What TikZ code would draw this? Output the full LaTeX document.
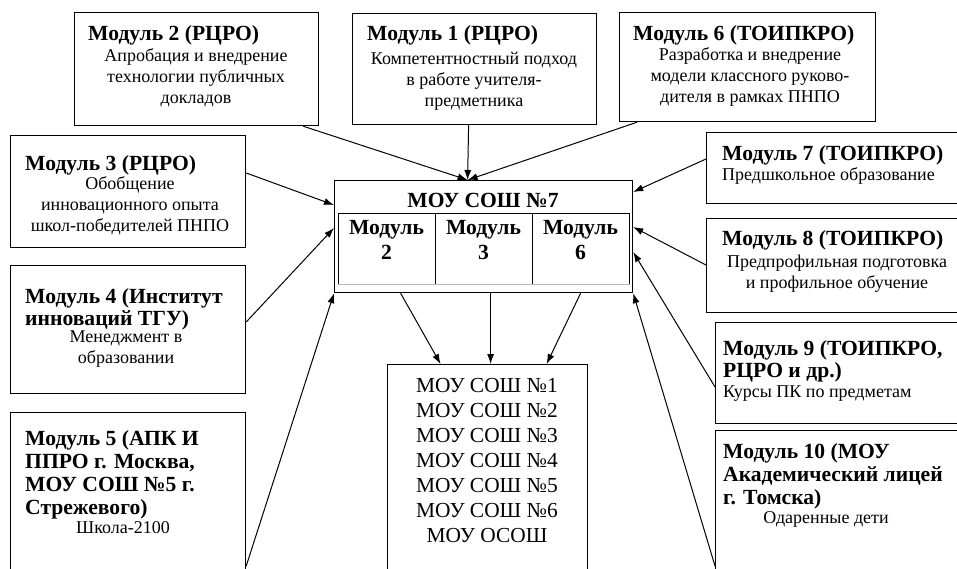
\documentclass[tikz,border=0pt]{standalone}
\usepackage{fontspec}
\setmainfont{Liberation Serif}
\usetikzlibrary{arrows.meta,calc}
\newcommand\bstrut{\rule{0pt}{12.5pt}}
\tikzset{
  box/.style={draw, line width=1.2pt, inner sep=0pt, anchor=north west},
  cell/.style={draw, line width=0.9pt, inner sep=0pt, anchor=north west, minimum width=97pt, minimum height=71pt},
  ttl/.style={font=\fontsize{21.6}{23}\selectfont\bfseries, inner sep=0pt, align=left, anchor=north west},
  bod/.style={font=\fontsize{18}{21}\selectfont, inner sep=0pt, align=center, anchor=north},
  bodl/.style={font=\fontsize{18}{21}\selectfont, inner sep=0pt, align=left, anchor=north west},
  celltxt/.style={font=\fontsize{21.6}{25}\selectfont\bfseries, inner sep=0pt, align=center, anchor=north},
  arr/.style={line width=1pt, -{Latex[length=10pt,width=7pt]}},
}
\begin{document}
\begin{tikzpicture}[x=1pt,y=-1pt]
\useasboundingbox (0,0) rectangle (957,568);
\clip (0,0) rectangle (957,568);

% boxes
\node[box, minimum width=244pt, minimum height=113pt] (m2) at (74,12) {};
\node[box, minimum width=244pt, minimum height=111pt] (m1) at (352,13) {};
\node[box, minimum width=256pt, minimum height=109pt] (m6) at (619,12) {};
\node[box, minimum width=235pt, minimum height=112pt] (m3) at (10,135) {};
\node[box, minimum width=235pt, minimum height=128pt] (m4) at (10,265) {};
\node[box, minimum width=235pt, minimum height=160pt] (m5) at (10,412) {};
\node[box, minimum width=260pt, minimum height=71pt] (m7) at (706,132) {};
\node[box, minimum width=260pt, minimum height=94pt] (m8) at (706,218) {};
\node[box, minimum width=250pt, minimum height=101pt] (m9) at (715,322) {};
\node[box, minimum width=250pt, minimum height=140pt] (m10) at (715,430) {};
\node[box, minimum width=298pt, minimum height=112pt] (c7) at (334,180) {};
\node[box, minimum width=200pt, minimum height=210pt] (b) at (387,364) {};

% inner cells
\node[cell] (k2) at (338,213) {};
\node[cell] (k3) at (435,213) {};
\node[cell] (k6) at (532,213) {};
\draw[gray!55, line width=1.1pt] (k2.south west) -- (k6.south east);

% texts
\node[ttl] (t2) at (88,23.9) {\strut Модуль 2 (РЦРО)};
\node[bod] (d2) at (196,48.5) {\bstrut Апробация и внедрение\\технологии публичных\\докладов};

\node[ttl] (t1) at (367,23.9) {\strut Модуль 1 (РЦРО)};
\node[bod] (d1) at (474,51.5) {\bstrut Компетентностный подход\\в работе учителя-\\предметника};

\node[ttl] (t6) at (633,23.9) {\strut Модуль 6 (ТОИПКРО)};
\node[bod] (d6) at (750,47.5) {\bstrut Разработка и внедрение\\модели классного руково-\\дителя в рамках ПНПО};

\node[ttl] (t3) at (25,153.9) {\strut Модуль 3 (РЦРО)};
\node[bod] (d3) at (130,176) {\bstrut Обобщение\\инновационного опыта\\школ-победителей ПНПО};

\node[ttl, font=\fontsize{21.6}{22}\selectfont\bfseries] (t4) at (25,287.6) {\strut Модуль 4 (Институт\\инноваций ТГУ)};
\node[bod] (d4) at (126,330) {\bstrut Менеджмент в\\образовании};

\node[ttl] (t5) at (25,428.9) {\strut Модуль 5 (АПК И\\ППРО г. Москва,\\МОУ СОШ №5 г.\\Стрежевого)};
\node[bod] (d5) at (123,520.5) {\bstrut Школа-2100};

\node[ttl] (t7) at (722,143.9) {\strut Модуль 7 (ТОИПКРО)};
\node[bodl] (d7) at (722,167.5) {\bstrut Предшкольное образование};

\node[ttl] (t8) at (722,228.9) {\strut Модуль 8 (ТОИПКРО)};
\node[bod] (d8) at (837,254.5) {\bstrut Предпрофильная подготовка\\и профильное обучение};

\node[ttl, font=\fontsize{21.6}{22}\selectfont\bfseries] (t9) at (723,339.6) {\strut Модуль 9 (ТОИПКРО,\\РЦРО и др.)};
\node[bodl] (d9) at (723,384.5) {\bstrut Курсы ПК по предметам};

\node[ttl] (t10) at (723,441.9) {\strut Модуль 10 (МОУ\\Академический лицей\\г. Томска)};
\node[bod] (d10) at (826,510.5) {\bstrut Одаренные дети};

\node[font=\fontsize{21.6}{23}\selectfont\bfseries, inner sep=0pt, anchor=north] (tc) at (483,190.9) {\strut МОУ СОШ №7};
\node[celltxt] (l2) at (386.5,216.5) {\strut Модуль\\2};
\node[celltxt] (l3) at (483.5,216.5) {\strut Модуль\\3};
\node[celltxt] (l6) at (580.5,216.5) {\strut Модуль\\6};

\node[font=\fontsize{21.4}{25}\selectfont, inner sep=0pt, align=center, anchor=north] (tb) at (487,374.5) {\strut МОУ СОШ №1\\МОУ СОШ №2\\МОУ СОШ №3\\МОУ СОШ №4\\МОУ СОШ №5\\МОУ СОШ №6\\МОУ ОСОШ};

% connectors
\coordinate (top) at ($(c7.north)+(-16,0)$);
\draw[arr] ($(m2.south east)+(-16,0)$) -- (top);
\draw[arr] ($(m1.south)+(-6,0)$) -- (top);
\draw[arr] ($(m6.south west)+(18,0)$) -- (top);
\draw[arr] ($(m3.north east)+(0,38)$) -- ($(c7.north west)+(0,25)$);
\draw[arr] ($(m4.north east)+(0,57)$) -- ($(c7.north west)+(0,48)$);
\draw[arr] ($(m5.north east)+(0,154)$) -- (c7.south west);
\draw[arr] ($(m7.north west)+(0,27)$) -- ($(c7.north east)+(0,12)$);
\draw[arr] ($(m8.north west)+(0,47)$) -- ($(c7.north east)+(0,47)$);
\draw[arr] ($(m9.north west)+(0,65)$) -- ($(c7.north east)+(0,72)$);
\draw[arr] ($(m10.north west)+(0,136)$) -- (c7.south east);
\draw[arr] ($(c7.south)+(-83,0)$) -- ($(b.north)+(-47,0)$);
\draw[arr] ($(c7.south)+(7,0)$) -- ($(b.north)+(3,0)$);
\draw[arr] ($(c7.south)+(97,0)$) -- ($(b.north)+(59,0)$);
\end{tikzpicture}
\end{document}
